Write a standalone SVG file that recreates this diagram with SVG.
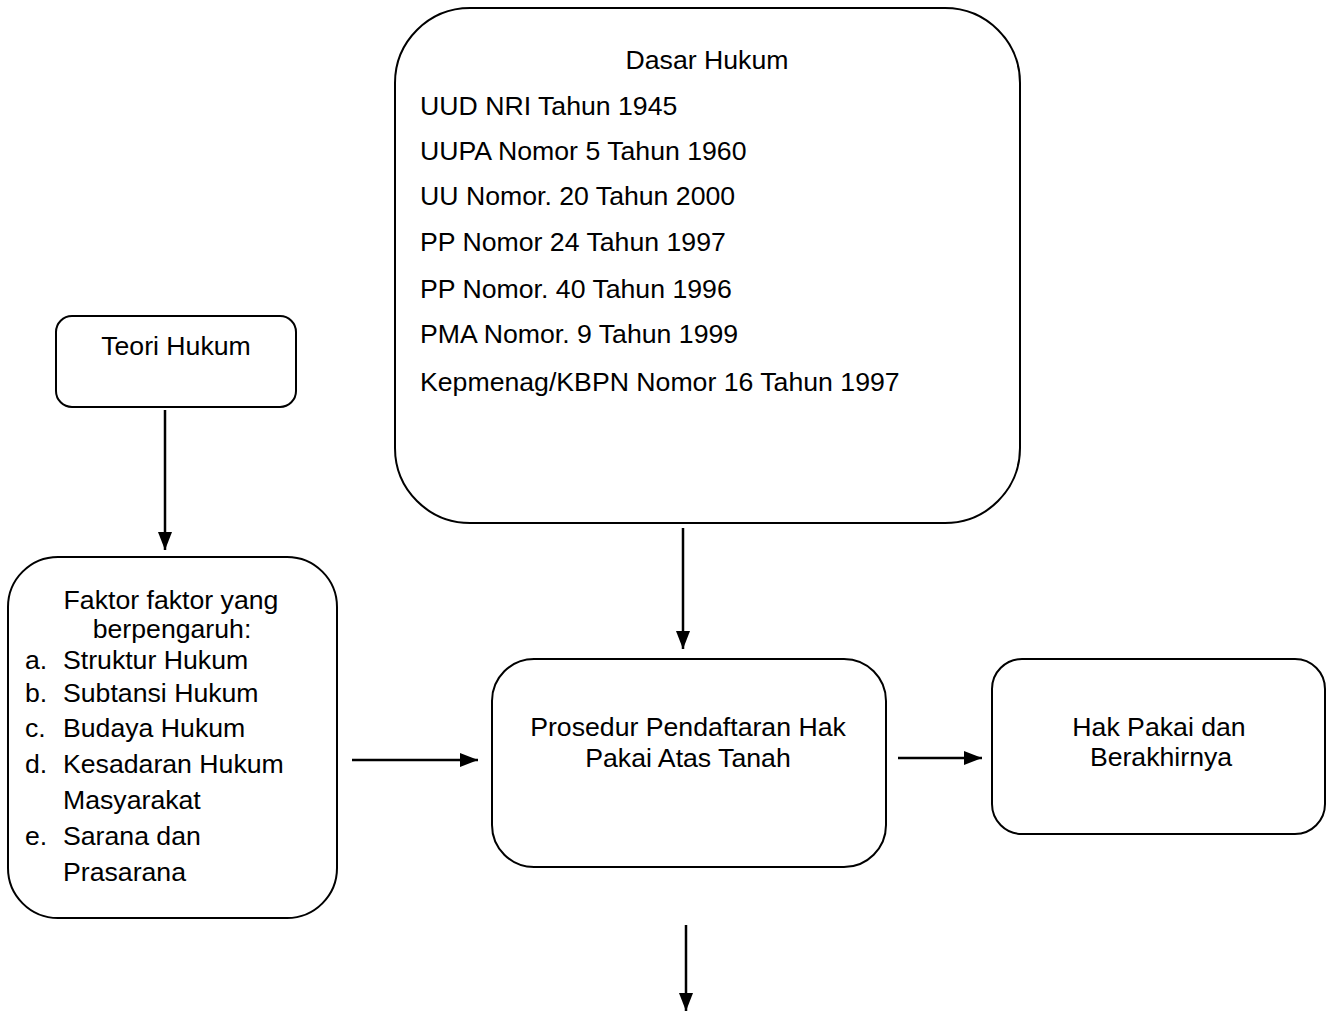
<svg xmlns="http://www.w3.org/2000/svg" width="1326" height="1011" viewBox="0 0 1326 1011">
<defs>
<marker id="ah" markerWidth="18" markerHeight="14" refX="18" refY="7" orient="auto" markerUnits="userSpaceOnUse">
<path d="M0,0 L18,7 L0,14 Z" fill="#000"/>
</marker>
<style>
.box{fill:#fff;stroke:#000;stroke-width:2}
.t{font-family:"Liberation Sans",Arial,sans-serif;font-size:26.67px;fill:#000}
.c{text-anchor:middle}
.ln{stroke:#000;stroke-width:2.5;fill:none;marker-end:url(#ah)}
</style>
</defs>
<rect width="1326" height="1011" fill="#fff"/>
<g id="dasar-hukum">
<rect class="box" x="395" y="8" width="625" height="515" rx="75" ry="75"/>
<text class="t c" x="707" y="69">Dasar Hukum</text>
<text class="t" x="420" y="115">UUD NRI Tahun 1945</text>
<text class="t" x="420" y="160">UUPA Nomor 5 Tahun 1960</text>
<text class="t" x="420" y="205">UU Nomor. 20 Tahun 2000</text>
<text class="t" x="420" y="251">PP Nomor 24 Tahun 1997</text>
<text class="t" x="420" y="298">PP Nomor. 40 Tahun 1996</text>
<text class="t" x="420" y="343">PMA Nomor. 9 Tahun 1999</text>
<text class="t" x="420" y="391">Kepmenag/KBPN Nomor 16 Tahun 1997</text>
</g>
<g id="teori-hukum">
<rect class="box" x="56" y="316" width="240" height="91" rx="16" ry="16"/>
<text class="t c" x="176" y="355">Teori Hukum</text>
</g>
<g id="faktor">
<rect class="box" x="8" y="557" width="329" height="361" rx="50" ry="50"/>
<text class="t c" x="171" y="609">Faktor faktor yang</text>
<text class="t c" x="172" y="638">berpengaruh:</text>
<text class="t" x="25" y="669">a.</text><text class="t" x="63" y="669">Struktur Hukum</text>
<text class="t" x="25" y="702">b.</text><text class="t" x="63" y="702">Subtansi Hukum</text>
<text class="t" x="25" y="737">c.</text><text class="t" x="63" y="737">Budaya Hukum</text>
<text class="t" x="25" y="773">d.</text><text class="t" x="63" y="773">Kesadaran Hukum</text>
<text class="t" x="63" y="809">Masyarakat</text>
<text class="t" x="25" y="845">e.</text><text class="t" x="63" y="845">Sarana dan</text>
<text class="t" x="63" y="881">Prasarana</text>
</g>
<g id="prosedur">
<rect class="box" x="492" y="659" width="394" height="208" rx="42" ry="42"/>
<text class="t c" x="688" y="736">Prosedur Pendaftaran Hak</text>
<text class="t c" x="688" y="767">Pakai Atas Tanah</text>
</g>
<g id="hak-pakai">
<rect class="box" x="992" y="659" width="333" height="175" rx="30" ry="30"/>
<text class="t c" x="1159" y="736">Hak Pakai dan</text>
<text class="t c" x="1161" y="766">Berakhirnya</text>
</g>
<g id="connectors">
<line class="ln" x1="165" y1="410" x2="165" y2="550"/>
<line class="ln" x1="683" y1="528" x2="683" y2="649"/>
<line class="ln" x1="352" y1="760" x2="478" y2="760"/>
<line class="ln" x1="898" y1="758" x2="982" y2="758"/>
<line class="ln" x1="686" y1="925" x2="686" y2="1011"/>
</g>
</svg>
